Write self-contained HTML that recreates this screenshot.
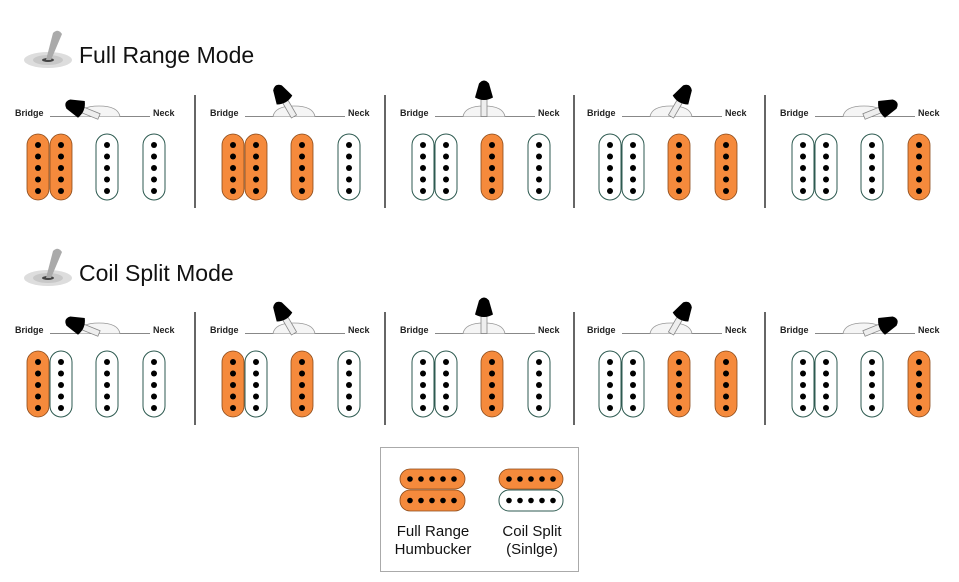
<!DOCTYPE html>
<html><head><meta charset="utf-8"><style>
html,body{margin:0;padding:0;background:#fff}
svg{display:block}
text{font-family:"Liberation Sans",sans-serif}
</style></head><body>
<svg width="959" height="582" viewBox="0 0 959 582" xmlns="http://www.w3.org/2000/svg">
<defs>
<g id="dots" fill="#000"><circle cx="11" cy="11" r="3"/><circle cx="11" cy="22.5" r="3"/><circle cx="11" cy="34" r="3"/><circle cx="11" cy="45.5" r="3"/><circle cx="11" cy="57" r="3"/></g>
<g id="cO"><rect x="0" y="0" width="22" height="66" rx="11" fill="#f58a3c" stroke="#8a4a1a" stroke-width="0.8"/><use href="#dots"/></g>
<g id="cW"><rect x="0" y="0" width="22" height="66" rx="11" fill="#fff" stroke="#2d5a50" stroke-width="1"/><use href="#dots"/></g>
<g id="lever"><rect x="-3" y="-17" width="6" height="17" fill="#eee" stroke="#888" stroke-width="0.8"/><path d="M-5 -33 Q0 -39 5 -33 L9 -19 Q0 -14 -9 -19 Z" fill="#000"/></g>
<g id="base">
<line x1="50" y1="116.5" x2="150" y2="116.5" stroke="#888" stroke-width="1"/>
<path d="M78 116.5 Q80 106 99 106 Q118 106 120 116.5" fill="#f5f5f5" stroke="#999" stroke-width="0.8"/>
<text x="15" y="116" font-size="9" font-weight="bold" fill="#222">Bridge</text>
<text x="153" y="116" font-size="9" font-weight="bold" fill="#222">Neck</text>
</g>
<g id="icon">
<ellipse cx="48" cy="60" rx="24" ry="8" fill="#ddd"/><ellipse cx="48" cy="60" rx="15" ry="5" fill="#c8c8c8"/><ellipse cx="48" cy="60" rx="6" ry="2" fill="#444"/>
<path d="M46 60 L53 33 Q58 28 62 34 L51 60 Z" fill="#aaa"/>
</g>
</defs>

<use href="#icon" x="0" y="0"/>
<text x="79" y="63" font-size="23" fill="#111">Full Range Mode</text>
<use href="#icon" x="0" y="218"/>
<text x="79" y="281" font-size="23" fill="#111">Coil Split Mode</text>

<g stroke="#000" stroke-width="1.2">
<line x1="195" y1="95" x2="195" y2="208"/><line x1="385" y1="95" x2="385" y2="208"/><line x1="574" y1="95" x2="574" y2="208"/><line x1="765" y1="95" x2="765" y2="208"/>
<line x1="195" y1="312" x2="195" y2="425"/><line x1="385" y1="312" x2="385" y2="425"/><line x1="574" y1="312" x2="574" y2="425"/><line x1="765" y1="312" x2="765" y2="425"/>
</g>

<!-- Row 1 -->
<g transform="translate(0,0)"><use href="#base"/><use href="#lever" transform="translate(99 116.5) rotate(-68)"/><use href="#cO" x="27" y="134"/><use href="#cO" x="50" y="134"/><use href="#cW" x="96" y="134"/><use href="#cW" x="143" y="134"/></g>
<g transform="translate(195,0)"><use href="#base"/><use href="#lever" transform="translate(99 116.5) rotate(-30)"/><use href="#cO" x="27" y="134"/><use href="#cO" x="50" y="134"/><use href="#cO" x="96" y="134"/><use href="#cW" x="143" y="134"/></g>
<g transform="translate(385,0)"><use href="#base"/><use href="#lever" transform="translate(99 116.5)"/><use href="#cW" x="27" y="134"/><use href="#cW" x="50" y="134"/><use href="#cO" x="96" y="134"/><use href="#cW" x="143" y="134"/></g>
<g transform="translate(572,0)"><use href="#base"/><use href="#lever" transform="translate(99 116.5) rotate(30)"/><use href="#cW" x="27" y="134"/><use href="#cW" x="50" y="134"/><use href="#cO" x="96" y="134"/><use href="#cO" x="143" y="134"/></g>
<g transform="translate(765,0)"><use href="#base"/><use href="#lever" transform="translate(99 116.5) rotate(68)"/><use href="#cW" x="27" y="134"/><use href="#cW" x="50" y="134"/><use href="#cW" x="96" y="134"/><use href="#cO" x="143" y="134"/></g>

<!-- Row 2 -->
<g transform="translate(0,217)"><use href="#base"/><use href="#lever" transform="translate(99 116.5) rotate(-68)"/><use href="#cO" x="27" y="134"/><use href="#cW" x="50" y="134"/><use href="#cW" x="96" y="134"/><use href="#cW" x="143" y="134"/></g>
<g transform="translate(195,217)"><use href="#base"/><use href="#lever" transform="translate(99 116.5) rotate(-30)"/><use href="#cO" x="27" y="134"/><use href="#cW" x="50" y="134"/><use href="#cO" x="96" y="134"/><use href="#cW" x="143" y="134"/></g>
<g transform="translate(385,217)"><use href="#base"/><use href="#lever" transform="translate(99 116.5)"/><use href="#cW" x="27" y="134"/><use href="#cW" x="50" y="134"/><use href="#cO" x="96" y="134"/><use href="#cW" x="143" y="134"/></g>
<g transform="translate(572,217)"><use href="#base"/><use href="#lever" transform="translate(99 116.5) rotate(30)"/><use href="#cW" x="27" y="134"/><use href="#cW" x="50" y="134"/><use href="#cO" x="96" y="134"/><use href="#cO" x="143" y="134"/></g>
<g transform="translate(765,217)"><use href="#base"/><use href="#lever" transform="translate(99 116.5) rotate(68)"/><use href="#cW" x="27" y="134"/><use href="#cW" x="50" y="134"/><use href="#cW" x="96" y="134"/><use href="#cO" x="143" y="134"/></g>

<!-- Legend -->
<rect x="380.5" y="447.5" width="198" height="124" fill="#fff" stroke="#aaa" stroke-width="1"/>
<g fill="#000">
<rect x="400" y="469" width="65" height="20" rx="10" fill="#f58a3c" stroke="#8a4a1a" stroke-width="0.8"/>
<rect x="400" y="490" width="65" height="21" rx="10" fill="#f58a3c" stroke="#8a4a1a" stroke-width="0.8"/>
<rect x="499" y="469" width="64" height="20" rx="10" fill="#f58a3c" stroke="#8a4a1a" stroke-width="0.8"/>
<rect x="499" y="490" width="64" height="21" rx="10" fill="#fff" stroke="#2d5a50" stroke-width="1"/>
<circle cx="410" cy="479" r="2.8"/><circle cx="421" cy="479" r="2.8"/><circle cx="432" cy="479" r="2.8"/><circle cx="443" cy="479" r="2.8"/><circle cx="454" cy="479" r="2.8"/>
<circle cx="410" cy="500.5" r="2.8"/><circle cx="421" cy="500.5" r="2.8"/><circle cx="432" cy="500.5" r="2.8"/><circle cx="443" cy="500.5" r="2.8"/><circle cx="454" cy="500.5" r="2.8"/>
<circle cx="509" cy="479" r="2.8"/><circle cx="520" cy="479" r="2.8"/><circle cx="531" cy="479" r="2.8"/><circle cx="542" cy="479" r="2.8"/><circle cx="553" cy="479" r="2.8"/>
<circle cx="509" cy="500.5" r="2.8"/><circle cx="520" cy="500.5" r="2.8"/><circle cx="531" cy="500.5" r="2.8"/><circle cx="542" cy="500.5" r="2.8"/><circle cx="553" cy="500.5" r="2.8"/>
</g>
<g font-size="15" fill="#111" text-anchor="middle">
<text x="433" y="536">Full Range</text><text x="433" y="554">Humbucker</text>
<text x="532" y="536">Coil Split</text><text x="532" y="554">(Sinlge)</text>
</g>
</svg>
</body></html>
